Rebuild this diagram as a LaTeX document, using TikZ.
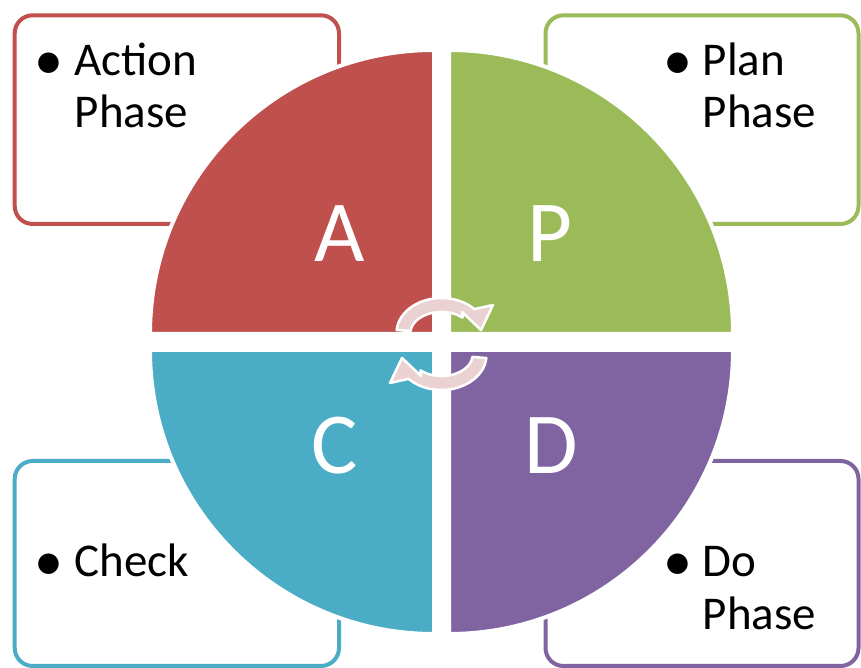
\documentclass[tikz,border=0pt]{standalone}
\usepackage{fontspec}
\setmainfont{Carlito}
\definecolor{cRed}{HTML}{C0504D}
\definecolor{cGreen}{HTML}{9BBB59}
\definecolor{cBlue}{HTML}{4BACC6}
\definecolor{cPurple}{HTML}{8064A2}
\definecolor{cPink}{HTML}{EAD2D2}
\tikzset{
  phasebox/.style={line width=4pt, rounded corners=18pt, fill=white},
  quad/.style={draw=white, line width=4pt},
  bigletter/.style={text=white, font=\fontsize{87}{90}\selectfont, anchor=base, inner sep=0pt},
  boxtext/.style={text=black, font=\fontsize{47}{52}\selectfont, anchor=base west, inner sep=0pt},
  bullet/.style={text=black, font=\fontsize{58}{62}\selectfont, anchor=base, inner sep=0pt},
  cyclearrow/.style={fill=cPink, draw=white, line width=2.5pt, line join=round},
}
\begin{document}
\begin{tikzpicture}[x=1pt,y=1pt]
\useasboundingbox (0,0) rectangle (861,668);
\clip (0,0) rectangle (861,668);
\fill[white] (0,0) rectangle (861,668);
% boxes
\draw[phasebox, draw=cRed] (14.7,444) rectangle (339,652.7);
\draw[phasebox, draw=cGreen] (545.5,444) rectangle (858.5,652.7);
\draw[phasebox, draw=cBlue] (14.7,2) rectangle (339,207);
\draw[phasebox, draw=cPurple] (545.5,2) rectangle (858.5,207);
% quadrants
\filldraw[quad, fill=cRed] (434,334) -- (150,334) arc[start angle=180, end angle=90, radius=284] -- cycle;
\filldraw[quad, fill=cGreen] (449,334) -- (449,618) arc[start angle=90, end angle=0, radius=284] -- cycle;
\filldraw[quad, fill=cBlue] (434,318) -- (434,34) arc[start angle=270, end angle=180, radius=284] -- cycle;
\filldraw[quad, fill=cPurple] (449,318) -- (733,318) arc[start angle=0, end angle=-90, radius=284] -- cycle;
% letters
\node[bigletter] (lA) at (339.5,406.3) {A};
\node[bigletter] (lP) at (550,406.3) {P};
\node[bigletter] (lC) at (335,194) {C};
\node[bigletter] (lD) at (551,194) {D};
% box texts
\node[bullet] (bA) at (48.5,588.7) {•};
\node[boxtext] (tA1) at (74.5,592) {Action};
\node[boxtext] (tA2) at (74.5,540) {Phase};
\node[bullet] (bP) at (677.5,588.7) {•};
\node[boxtext] (tP1) at (702.5,592) {Plan};
\node[boxtext] (tP2) at (702.5,540) {Phase};
\node[bullet] (bC) at (48.5,87.7) {•};
\node[boxtext] (tC1) at (74.5,91) {Check};
\node[bullet] (bD) at (677.5,87.7) {•};
\node[boxtext] (tD1) at (702.5,91) {Do};
\node[boxtext] (tD2) at (702.5,38) {Phase};
% cycle arrows
\path[cyclearrow] (396.67,338.05) arc[start angle=175, end angle=43, x radius=45, y radius=35]
  -- (493,363) -- (481,338) -- (462,356) -- (462.6,350.4)
  arc[start angle=47, end angle=175, x radius=31, y radius=21] -- cycle;
\begin{scope}[rotate around={180:(441.5,324)}]
\path[cyclearrow] (396.67,338.05) arc[start angle=175, end angle=43, x radius=45, y radius=35]
  -- (493,363) -- (481,338) -- (462,356) -- (462.6,350.4)
  arc[start angle=47, end angle=175, x radius=31, y radius=21] -- cycle;
\end{scope}
\end{tikzpicture}
\end{document}
